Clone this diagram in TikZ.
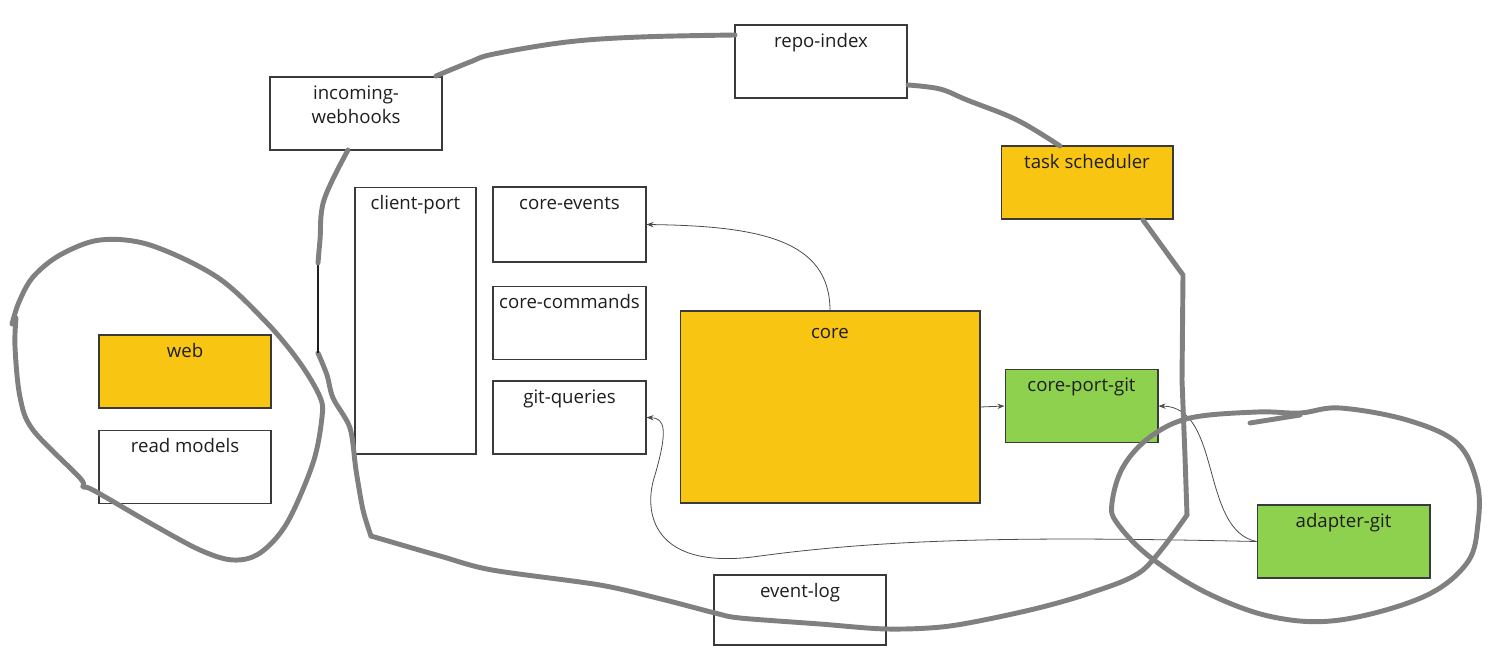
\documentclass[tikz,border=0pt]{standalone}
\usepackage{fontspec}
\setmainfont{Open Sans}
\usetikzlibrary{arrows.meta}
\definecolor{boxline}{HTML}{3A3A3A}
\definecolor{coreyellow}{HTML}{F8C512}
\definecolor{portgreen}{HTML}{8ED14E}
\definecolor{sketch}{HTML}{808080}
\definecolor{ink}{HTML}{1E1E1E}

\begin{document}
\begin{tikzpicture}[
    x=0.02cm, y=-0.02cm,
    lbl/.style={anchor=base, inner sep=0pt, align=center, yshift=-0.46cm,
        text=ink, font=\fontsize{10.6}{13.6}\selectfont},
    lbltwo/.style={lbl, yshift=-0.48cm},
    boxbase/.style={draw=boxline, line width=0.6pt, fill=white, inner sep=0pt,
        minimum width=3.44cm, minimum height=1.46cm},
    box/.style={boxbase, label={[lbl]north:#1}},
    boxtwo/.style={boxbase, label={[lbltwo]north:#1}},
    narrow/.style={minimum width=3.06cm},
    yellowbox/.style={fill=coreyellow},
    greenbox/.style={fill=portgreen},
    flow/.style={draw=ink!80, line width=0.45pt, -{Stealth[length=4pt,width=3pt]}},
    loop/.style={draw=sketch, line width=2.8pt, line cap=round, line join=round}
]
\useasboundingbox (0,0) rectangle (1491,670);

% components
\node[boxtwo={incoming-\\webhooks}] (webhooks) at (356,113.5) {};
\node[box={repo-index}] (repoindex) at (821,61.5) {};
\node[box={task scheduler}, yellowbox] (scheduler) at (1087,182.5) {};
\node[box={client-port}, minimum width=2.42cm, minimum height=5.34cm] (clientport) at (415.5,320.5) {};
\node[box={core-events}, narrow, minimum height=1.5cm] (coreevents) at (569.5,224.5) {};
\node[box={core-commands}, narrow] (corecommands) at (569.5,323) {};
\node[box={git-queries}, narrow] (gitqueries) at (569.5,417.5) {};
\node[boxbase, yellowbox, minimum width=6cm, minimum height=3.84cm,
    label={[lbl, yshift=-0.1cm]north:core}] (core) at (830,407) {};
\node[box={core-port-git}, narrow, greenbox] (coreportgit) at (1081.5,406) {};
\node[box={adapter-git}, greenbox, minimum width=3.46cm] (adaptergit) at (1343.5,541.5) {};
\node[box={web}, yellowbox] (web) at (185,371.5) {};
\node[box={read models}] (readmodels) at (185,467) {};
\node[box={event-log}, minimum height=1.4cm] (eventlog) at (800,610) {};

% dependencies
\draw[flow] (core.north) .. controls (830,240) and (760,226) .. (coreevents.east);
\draw[flow] (core.east) -- (coreportgit.west);
\draw[flow] (adaptergit.west) .. controls (1200,530) and (1222,407) .. (coreportgit.east);
\draw[flow] (adaptergit.west) .. controls (1050,537) and (900,537) .. (760,556)
    .. controls (650,572) and (643,510) .. (655,475)
    .. controls (668,430) and (665,418) .. (gitqueries.east);

% hand drawn outlines
\draw[loop] plot[smooth, tension=0.55] coordinates {(12,324) (19,302) (33,277) (60,255)
    (100,240) (150,245) (217,277) (267,323) (300,363) (320,397) (322,417) (313,463)
    (287,523) (260,553) (233,560) (200,550) (150,523) (93,490) (83,487) (80,478)
    (33,430) (20,397) (15,347) (16,318)};
\draw[loop] plot[smooth, tension=0.6] coordinates {(436,76) (470,62) (494,54) (567,42)
    (640,37) (735,35)};
\draw[loop] plot[smooth, tension=0.6] coordinates {(908,85) (940,89) (967,100)
    (1017,120) (1060,146)};
\draw[loop] (1143,220) -- (1183,275) -- (1182,380) -- (1185,457) -- (1187,515);
\draw[loop] plot[smooth, tension=0.5] coordinates {(1187,515) (1143,570) (1090,593)
    (1030,610) (950,626) (887,629) (820,624) (740,618) (715,613) (665,600)
    (600,585) (492,570) (440,556) (371,536)};
\draw[loop] plot[smooth, tension=0.5] coordinates {(371,536) (363,510) (356,470)
    (350,428) (333,398) (327,375) (318,353)};
\draw[ink, line width=0.6pt] (318,263) -- (318,353);
\draw[loop] plot[smooth, tension=0.6] coordinates {(318,263) (320,240) (324,200)
    (348,150)};
\draw[loop] plot[smooth cycle, tension=0.6] coordinates {(1300,413) (1340,408)
    (1407,420) (1457,443) (1477,483) (1478,523) (1467,563) (1423,597) (1340,620)
    (1273,617) (1207,593) (1150,557) (1117,523) (1112,503) (1123,467) (1150,437)
    (1190,418) (1257,412)};
\draw[loop] (1250,423) -- (1300,415);
\end{tikzpicture}
\end{document}
